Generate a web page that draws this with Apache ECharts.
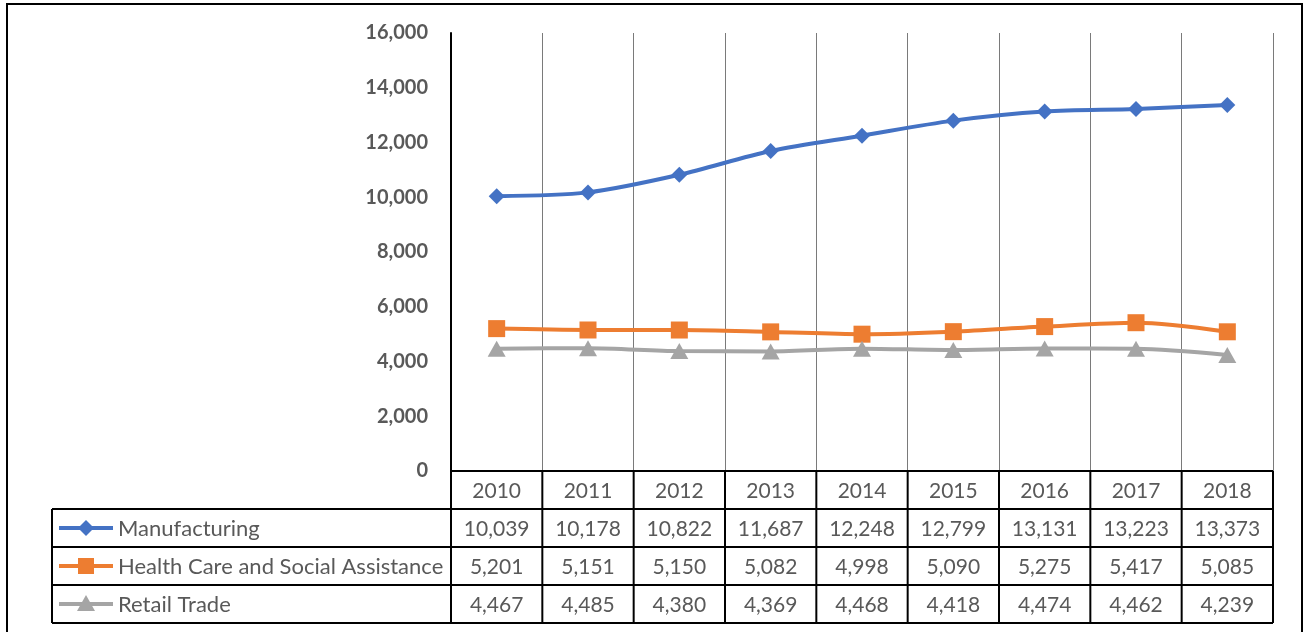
<!DOCTYPE html>
<html><head><meta charset="utf-8">
<script src="https://cdn.jsdelivr.net/npm/echarts@6/dist/echarts.min.js"></script>
<style>html,body{margin:0;padding:0;background:#fff}#c{width:1304px;height:632px}</style>
</head><body><div id="c"></div>
<script>
const years = ['2010','2011','2012','2013','2014','2015','2016','2017','2018'];
const manufacturing = [10039,10178,10822,11687,12248,12799,13131,13223,13373];
const healthCare = [5201,5151,5150,5082,4998,5090,5275,5417,5085];
const retailTrade = [4467,4485,4380,4369,4468,4418,4474,4462,4239];
const seriesNames = ['Manufacturing','Health Care and Social Assistance','Retail Trade'];
const seriesColors = ['#4472C4','#ED7D31','#A5A5A5'];
const seriesSymbols = ['diamond','rect','triangle'];
const seriesData = [manufacturing, healthCare, retailTrade];

const FONT = 'Lato';
const chart = echarts.init(document.getElementById('c'), null, {renderer:'canvas'});
const fmt = v => v.toLocaleString('en-US');

chart.setOption({
  animation:false,
  backgroundColor:'#fff',
  grid:{left:451, right:31, top:33, bottom:161, containLabel:false},
  xAxis:{type:'category', data:years, boundaryGap:true,
    axisLine:{show:false}, axisTick:{show:false}, axisLabel:{show:false},
    splitLine:{show:true, lineStyle:{color:'#7a7a7a', width:1}}},
  yAxis:{type:'value', min:0, max:16000, interval:2000,
    axisLine:{show:true, lineStyle:{color:'#000', width:2}},
    axisTick:{show:false}, splitLine:{show:false},
    axisLabel:{margin:23, color:'#595959', fontFamily:FONT, fontWeight:'bold', fontSize:20, formatter:fmt}},
  series: seriesNames.map((n,i)=>({
    name:n, type:'line', data:seriesData[i], smooth:0.3,
    symbol:seriesSymbols[i], symbolSize: i===0?16:(i===1?17:[18,16]),
    lineStyle:{color:seriesColors[i], width:4},
    itemStyle:{color:seriesColors[i]}
  }))
});

function buildTable(){
  const c0 = chart.convertToPixel({xAxisIndex:0}, 0);
  const c1 = chart.convertToPixel({xAxisIndex:0}, 1);
  const w = c1 - c0;
  const leftX = c0 - w/2;
  const rightX = leftX + w*years.length;
  const top = chart.convertToPixel({yAxisIndex:0}, 0);
  const rowH = 38;
  const labelLeft = 52;
  const els = [];
  const line = (x1,y1,x2,y2,wd,col)=>els.push({type:'line', shape:{x1,y1,x2,y2}, style:{stroke:col||'#000', lineWidth:wd||2}, z:10});
  const txt = (x,y,t,align,size)=>els.push({type:'text', x, y, style:{text:t, fill:'#595959', font:(size||21)+'px '+FONT, textAlign:align||'center', textVerticalAlign:'middle'}, z:11});
  // outer frame
  els.push({type:'rect', shape:{x:7,y:4,width:1295,height:640}, style:{fill:null, stroke:'#000', lineWidth:2}, z:1});
  // header row
  line(leftX, top, rightX, top);
  for(let i=0;i<=years.length;i++){
    const x = leftX + i*w;
    line(x, top, x, top+rowH*4);
  }
  years.forEach((y,i)=>txt(leftX+(i+0.5)*w, top+rowH/2+1, y));
  // data rows
  for(let r=0;r<=3;r++){
    const y = top + rowH*(r+1);
    line(labelLeft, y, rightX, y);
  }
  line(labelLeft, top+rowH, labelLeft, top+rowH*4);
  seriesNames.forEach((n,r)=>{
    const cy = top + rowH*(r+1) + rowH/2;
    line(59, cy, 113, cy, 4, seriesColors[r]);
    const mx = 86;
    if(seriesSymbols[r]==='diamond'){
      els.push({type:'polygon', shape:{points:[[mx,cy-8],[mx+8,cy],[mx,cy+8],[mx-8,cy]]}, style:{fill:seriesColors[r]}, z:12});
    } else if(seriesSymbols[r]==='rect'){
      els.push({type:'rect', shape:{x:mx-8,y:cy-8,width:16,height:16}, style:{fill:seriesColors[r]}, z:12});
    } else {
      els.push({type:'polygon', shape:{points:[[mx,cy-9],[mx+9,cy+7],[mx-9,cy+7]]}, style:{fill:seriesColors[r]}, z:12});
    }
    txt(118, cy+1, n, 'left', 22);
    seriesData[r].forEach((v,i)=>txt(leftX+(i+0.5)*w, cy+1, fmt(v)));
  });
  chart.setOption({graphic:{elements:els}});
}
buildTable();
</script></body></html>
